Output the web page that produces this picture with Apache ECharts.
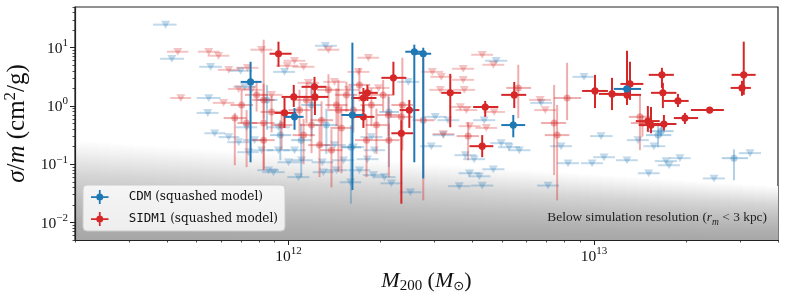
<!DOCTYPE html>
<html><head><meta charset="utf-8">
<script src="https://cdn.jsdelivr.net/npm/echarts@6/dist/echarts.min.js"></script>
<style>html,body{margin:0;padding:0;background:#fff}#c{width:785px;height:297px}</style>
</head><body><div id="c"></div>
<script>
// Mass values are in units of 1e12 Msun
const UNIT = 1e12;
// [M200, sigma/m, M_lo, M_hi, sigma_lo, sigma_hi]
const cdmSolid = [
  [0.751, 2.59, 0.697, 0.816, 0.108, 5.74],
  [1.046, 0.65, 0.97, 1.12, 0.39, 0.92],
  [1.618, 0.70, 1.49, 1.76, 0.036, 12.2],
  [2.58, 8.53, 2.41, 2.80, 0.108, 11.3],
  [2.76, 7.88, 2.62, 2.93, 0.057, 10.0],
  [5.44, 0.47, 4.97, 5.95, 0.29, 0.70],
  [12.8, 1.96, 11.6, 14.25, 1.8, 2.1]
];
const cdmFaded = [
  [16.2, 0.316, 14.8, 17.9, 0.196, 0.47],
  [16.6, 0.37, 15.0, 18.2, 0.30, 0.45],
  [28.7, 0.127, 26.2, 31.9, 0.053, 0.18],
  [2.13, 0.79, 1.98, 2.30, 0.089, 1.43],
  [0.85, 1.27, 0.79, 0.92, 0.39, 2.3],
  [1.6, 0.196, 1.48, 1.73, 0.021, 0.47],
  [0.94, 0.316, 0.87, 1.02, 0.117, 0.57],
  [1.19, 1.04, 1.10, 1.28, 0.3, 2.5],
  [1.33, 0.47, 1.22, 1.45, 0.15, 0.9],
  [1.10, 0.259, 1.02, 1.19, 0.06, 0.5]
];
const sidmSolid = [
  [0.927, 7.88, 0.867, 1.023, 4.70, 12.7],
  [1.04, 1.43, 0.949, 1.145, 0.96, 2.30],
  [1.216, 2.13, 1.103, 1.331, 1.27, 3.16],
  [1.22, 1.43, 1.12, 1.35, 0.70, 1.89],
  [1.758, 1.37, 1.606, 1.94, 0.79, 2.04],
  [1.812, 1.68, 1.70, 1.96, 1.22, 2.30],
  [2.204, 3.04, 2.013, 2.43, 1.55, 5.74],
  [2.485, 0.85, 2.31, 2.68, 0.42, 1.27],
  [2.34, 0.34, 2.17, 2.56, 0.021, 0.57],
  [3.383, 1.68, 3.162, 3.674, 0.43, 3.56],
  [4.403, 0.96, 4.02, 4.86, 0.65, 1.22],
  [4.304, 0.204, 3.91, 4.68, 0.132, 0.316],
  [5.48, 1.55, 4.97, 6.0, 0.92, 2.59],
  [10.07, 1.81, 9.14, 11.1, 0.92, 3.42],
  [11.45, 1.61, 10.38, 12.7, 0.85, 3.04],
  [12.82, 1.55, 11.53, 14.25, 1.04, 8.87],
  [13.11, 2.39, 12.2, 14.5, 1.27, 5.74],
  [16.68, 3.42, 15.1, 18.25, 2.04, 4.52],
  [16.8, 1.68, 15.36, 18.6, 0.92, 2.49],
  [18.82, 1.22, 16.9, 20.4, 0.96, 1.61],
  [19.83, 0.62, 18.25, 21.9, 0.49, 0.76],
  [23.9, 0.85, 20.75, 26.6, 0.78, 0.93],
  [30.9, 3.42, 28.2, 33.8, 1.55, 12.7],
  [30.5, 2.04, 28.0, 32.6, 1.49, 2.70],
  [15.0, 0.55, 13.7, 16.4, 0.36, 1.0],
  [15.36, 0.47, 14.0, 16.8, 0.34, 0.96],
  [16.93, 0.49, 15.4, 18.6, 0.38, 0.70],
  [0.97, 0.76, 0.90, 1.06, 0.42, 1.37],
  [1.758, 0.65, 1.61, 1.91, 0.42, 1.04]
];
const sidmFaded = [
  [0.667, 0.62, 0.613, 0.729, 0.096, 0.76],
  [0.729, 0.51, 0.68, 0.79, 0.089, 0.85],
  [0.829, 0.51, 0.76, 0.90, 0.079, 13.7],
  [0.949, 0.47, 0.88, 1.03, 0.174, 0.85],
  [5.648, 2.04, 5.16, 6.22, 0.62, 5.09],
  [8.16, 1.37, 7.40, 9.07, 0.57, 5.51],
  [7.40, 0.51, 6.71, 8.10, 0.065, 2.30],
  [7.57, 0.316, 6.9, 8.3, 0.024, 1.04],
  [14.13, 0.65, 13.0, 15.3, 0.174, 1.55],
  [14.4, 0.51, 13.2, 15.6, 0.3, 0.7],
  [3.87, 0.304, 3.55, 4.2, 0.117, 0.53],
  [2.122, 0.70, 1.95, 2.31, 0.3, 1.55],
  [2.34, 0.65, 2.15, 2.55, 0.35, 1.1],
  [2.76, 0.57, 2.55, 3.0, 0.024, 6.72],
  [2.358, 1.04, 2.17, 2.56, 0.174, 6.72],
  [1.086, 0.85, 1.0, 1.18, 0.3, 1.9],
  [1.145, 1.27, 1.05, 1.25, 0.5, 2.5],
  [1.282, 0.57, 1.18, 1.40, 0.2, 1.2],
  [1.351, 1.89, 1.24, 1.47, 0.9, 3.5],
  [1.435, 1.04, 1.32, 1.56, 0.45, 2.0],
  [1.49, 0.42, 1.37, 1.62, 0.07, 1.0],
  [1.547, 1.55, 1.42, 1.68, 0.8, 2.6],
  [1.63, 0.85, 1.50, 1.77, 0.35, 1.6],
  [1.706, 2.30, 1.57, 1.85, 1.2, 4.5],
  [1.867, 1.04, 1.72, 2.03, 0.45, 2.0],
  [1.94, 0.47, 1.79, 2.11, 0.15, 0.9],
  [2.04, 1.55, 1.88, 2.22, 0.8, 2.8],
  [2.13, 0.259, 1.96, 2.31, 0.06, 0.5],
  [1.12, 0.316, 1.03, 1.22, 0.1, 0.6],
  [1.263, 0.213, 1.16, 1.37, 0.06, 0.45],
  [1.382, 0.174, 1.27, 1.50, 0.04, 0.4],
  [0.829, 1.27, 0.76, 0.90, 0.6, 2.4],
  [0.88, 0.79, 0.81, 0.96, 0.35, 1.5],
  [0.786, 1.55, 0.72, 0.855, 0.8, 2.7],
  [0.702, 1.04, 0.645, 0.765, 0.5, 1.9],
  [0.829, 0.259, 0.76, 0.90, 0.08, 0.5],
  [1.189, 0.47, 1.09, 1.29, 0.155, 2.0],
  [1.80, 0.259, 1.65, 1.96, 0.06, 0.6],
  [1.456, 0.85, 1.34, 1.58, 0.073, 2.8]
];
// upper limits: [M200, sigma/m, M_lo, M_hi]
const cdmLimits = [
  [0.396, 24.9, 0.36, 0.43], [0.415, 6.46, 0.38, 0.455], [0.556, 4.70, 0.51, 0.605],
  [0.697, 4.01, 0.64, 0.76], [0.718, 2.13, 0.66, 0.78], [0.548, 1.37, 0.50, 0.60],
  [0.544, 0.76, 0.50, 0.59], [0.97, 3.85, 0.89, 1.05], [1.32, 10.8, 1.22, 1.44],
  [0.573, 0.34, 0.53, 0.62], [0.637, 0.292, 0.59, 0.69], [0.687, 0.239, 0.63, 0.75],
  [0.774, 0.259, 0.71, 0.84], [0.816, 0.174, 0.75, 0.89], [0.74, 0.161, 0.68, 0.80],
  [0.893, 0.073, 0.82, 0.97], [0.86, 0.079, 0.79, 0.93], [1.0, 0.108, 0.92, 1.09],
  [1.078, 0.060, 0.99, 1.17], [0.927, 0.174, 0.85, 1.01], [1.046, 0.174, 0.96, 1.14],
  [1.29, 0.108, 1.19, 1.40], [1.435, 0.079, 1.32, 1.56], [1.595, 0.049, 1.47, 1.73],
  [1.896, 0.065, 1.75, 2.06], [2.17, 0.047, 2.0, 2.36], [2.505, 0.033, 2.31, 2.72],
  [1.513, 0.117, 1.39, 1.64], [1.812, 0.122, 1.67, 1.97], [1.91, 0.174, 1.76, 2.07],
  [1.30, 0.073, 1.20, 1.41], [1.706, 0.079, 1.57, 1.85], [2.06, 0.060, 1.90, 2.24],
  [1.414, 0.213, 1.30, 1.54], [1.63, 0.196, 1.50, 1.77], [1.867, 0.292, 1.72, 2.03],
  [3.02, 0.65, 2.78, 3.28], [2.466, 2.59, 2.27, 2.68], [4.78, 5.97, 4.40, 5.20],
  [6.71, 1.13, 6.18, 7.29], [9.27, 3.16, 8.5, 10.1], [10.54, 0.304, 9.7, 11.5],
  [2.932, 0.204, 2.70, 3.18], [3.21, 0.316, 2.96, 3.49], [3.33, 0.57, 3.07, 3.62],
  [4.37, 0.57, 4.02, 4.75], [4.966, 0.230, 4.57, 5.40], [5.27, 0.196, 4.85, 5.73],
  [5.69, 0.174, 5.24, 6.19], [3.79, 0.143, 3.49, 4.12], [4.05, 0.122, 3.73, 4.40],
  [4.68, 0.082, 4.31, 5.09], [3.91, 0.070, 3.60, 4.25], [4.21, 0.062, 3.88, 4.58],
  [3.62, 0.042, 3.33, 3.94], [4.304, 0.043, 3.96, 4.68], [7.80, 0.204, 7.18, 8.47],
  [8.22, 0.104, 7.57, 8.93], [9.85, 0.104, 9.07, 10.7], [10.78, 0.132, 9.93, 11.7],
  [7.07, 0.043, 6.51, 7.68], [12.82, 0.117, 11.8, 13.9], [13.93, 0.259, 12.8, 15.1],
  [15.7, 0.204, 14.5, 17.1], [17.2, 0.113, 15.8, 18.7], [17.6, 0.096, 16.2, 19.1],
  [19.1, 0.127, 17.6, 20.7], [15.1, 0.070, 13.9, 16.4], [24.7, 0.057, 22.7, 26.8],
  [32.4, 0.155, 29.8, 35.2], [1.103, 0.117, 1.02, 1.20], [0.729, 0.43, 0.67, 0.79],
  [0.927, 0.43, 0.85, 1.01]
];
const sidmLimits = [
  [0.434, 8.53, 0.40, 0.47], [0.548, 8.53, 0.505, 0.595], [0.59, 7.28, 0.543, 0.64],
  [0.637, 4.17, 0.587, 0.69], [0.444, 1.37, 0.41, 0.48], [0.613, 1.13, 0.565, 0.665],
  [0.687, 1.96, 0.633, 0.745], [0.734, 4.52, 0.676, 0.797], [0.816, 9.24, 0.75, 0.885],
  [1.351, 9.24, 1.245, 1.466], [1.046, 5.97, 0.963, 1.135], [1.12, 4.70, 1.03, 1.215],
  [1.825, 6.72, 1.68, 1.98], [1.693, 3.85, 1.56, 1.84], [1.414, 2.59, 1.30, 1.535],
  [0.99, 4.90, 0.91, 1.075], [2.955, 3.85, 2.72, 3.21], [3.162, 3.16, 2.91, 3.43],
  [3.14, 1.89, 2.89, 3.41], [4.304, 7.57, 3.96, 4.67], [4.68, 5.09, 4.31, 5.08],
  [3.73, 4.35, 3.43, 4.05], [3.73, 2.81, 3.43, 4.05], [3.76, 1.89, 3.46, 4.08],
  [3.65, 0.96, 3.36, 3.96], [6.66, 1.27, 6.13, 7.23], [6.92, 0.85, 6.37, 7.51],
  [3.82, 0.85, 3.52, 4.15], [3.91, 0.45, 3.60, 4.25], [4.44, 0.42, 4.09, 4.82],
  [4.71, 0.79, 4.34, 5.11], [3.21, 0.33, 2.96, 3.49], [1.162, 2.49, 1.07, 1.26],
  [1.57, 1.89, 1.45, 1.70], [1.97, 2.04, 1.81, 2.14], [0.757, 1.89, 0.70, 0.82],
  [0.88, 1.55, 0.81, 0.955]
];
// resolution boundary: [M_left, sigma_left, M_right, sigma_right]; shaded below
const shadeBoundary = [[2e11, 0.26, 4e13, 0.042]];
// ticks
const xMajorExp = [12, 13];
const yMajorExp = [-2, -1, 0, 1];
const xMinorTicks = [2e11,3e11,4e11,5e11,6e11,7e11,8e11,9e11,2e12,3e12,4e12,5e12,6e12,7e12,8e12,9e12,2e13,3e13,4e13];
const yMinorTicks = [0.005,0.006,0.007,0.008,0.009,0.02,0.03,0.04,0.05,0.06,0.07,0.08,0.09,0.2,0.3,0.4,0.5,0.6,0.7,0.8,0.9,2,3,4,5,6,7,8,9,20,30,40,50];

const SERIF = "'Liberation Serif','DejaVu Serif',serif";
const DSERIF = "'DejaVu Serif','Liberation Serif',serif";
const BLUE = '#1f77b4', RED = '#d62728';
const xMajor = xMajorExp.map(e => Math.pow(10, e));
const yMajor = yMajorExp.map(e => Math.pow(10, e));

function expLabel(v) {
  const e = Math.round(Math.log10(v));
  return '{b|10}{s|' + (e < 0 ? '\u2212' + (-e) : e) + '}';
}
const tickRich = {
  b: { fontFamily: SERIF, fontSize: 15.5, color: '#111', verticalAlign: 'top', padding: [3, 0, 1, 0] },
  s: { fontFamily: SERIF, fontSize: 11, color: '#111', verticalAlign: 'top', padding: [0, 0, 0, 0] }
};
function nameRich(fs) {
  return {
    i: { fontFamily: SERIF, fontStyle: 'italic', fontSize: fs, color: '#111', verticalAlign: 'top' },
    n: { fontFamily: SERIF, fontSize: fs, color: '#111', verticalAlign: 'top' },
    sup: { fontFamily: SERIF, fontSize: fs * 0.68, color: '#111', verticalAlign: 'top', padding: [-3, 0, 0, 0] },
    sub: { fontFamily: SERIF, fontSize: fs * 0.68, color: '#111', verticalAlign: 'top', padding: [fs * 0.41, 0, 0, 0] },
    odot: { fontFamily: "'DejaVu Sans',sans-serif", fontSize: fs * 0.6, color: '#111', verticalAlign: 'top', padding: [fs * 0.46, 0, 0, 0] }
  };
}

function scaleRows(rows) { return rows.map(d => d.length === 6
  ? [d[0]*UNIT, d[1], d[2]*UNIT, d[3]*UNIT, d[4], d[5]]
  : [d[0]*UNIT, d[1], d[2]*UNIT, d[3]*UNIT]); }

function errRender(color, r) {
  return function (params, api) {
    const x = api.value(0), y = api.value(1);
    const c = api.coord([x, y]);
    const l = api.coord([api.value(2), y]);
    const rr = api.coord([api.value(3), y]);
    const b = api.coord([x, api.value(4)]);
    const t = api.coord([x, api.value(5)]);
    return { type: 'group', children: [
      { type: 'line', shape: { x1: l[0], y1: c[1], x2: rr[0], y2: c[1] }, style: { stroke: color, lineWidth: 2 } },
      { type: 'line', shape: { x1: c[0], y1: b[1], x2: c[0], y2: t[1] }, style: { stroke: color, lineWidth: 2 } },
      { type: 'circle', shape: { cx: c[0], cy: c[1], r: r }, style: { fill: color } }
    ] };
  };
}
function limRender(color) {
  return function (params, api) {
    const x = api.value(0), y = api.value(1);
    const c = api.coord([x, y]);
    const l = api.coord([api.value(2), y]);
    const rr = api.coord([api.value(3), y]);
    return { type: 'group', children: [
      { type: 'line', shape: { x1: l[0], y1: c[1], x2: rr[0], y2: c[1] }, style: { stroke: color, lineWidth: 2 } },
      { type: 'polygon', shape: { points: [[c[0]-4.5, c[1]-3.8], [c[0]+4.5, c[1]-3.8], [c[0], c[1]+4]] }, style: { fill: color } }
    ] };
  };
}
const SHADE_STOPS = [
  { offset: 0, color: '#ffffff' }, { offset: 0.12, color: '#f1f1f1' }, { offset: 0.35, color: '#d5d5d5' },
  { offset: 0.6, color: '#bfbfbf' }, { offset: 0.85, color: '#aeaeae' }, { offset: 1, color: '#a7a7a7' }
];
// gradient shade below the boundary line; each column fades from the line to the axis bottom
function shadeRender(params, api) {
  const p0 = api.coord([api.value(0), api.value(1)]);
  const p1 = api.coord([api.value(2), api.value(3)]);
  const cs = params.coordSys;
  const bottom = cs.y + cs.height;
  const N = 60, children = [];
  for (let i = 0; i < N; i++) {
    const fa = i / N, fb = (i + 1) / N;
    const xa = p0[0] + (p1[0] - p0[0]) * fa, xb = p0[0] + (p1[0] - p0[0]) * fb;
    const ya = p0[1] + (p1[1] - p0[1]) * fa, yb = p0[1] + (p1[1] - p0[1]) * fb;
    const ym = (ya + yb) / 2;
    children.push({ type: 'polygon', silent: true,
      shape: { points: [[xa, ya], [xb + 0.8, yb], [xb + 0.8, bottom], [xa, bottom]] },
      style: { fill: { type: 'linear', global: true, x: 0, y: ym, x2: 0, y2: bottom, colorStops: SHADE_STOPS } } });
  }
  return { type: 'group', children };
}

const ICON = 'path://M0,9H20V11H0Z M9,2H11V18H9Z M14,10A4,4,0,1,1,6,10A4,4,0,1,1,14,10Z';
const chart = echarts.init(document.getElementById('c'), null, { renderer: 'canvas' });
chart.setOption({
  animation: false,
  backgroundColor: '#fff',
  grid: { left: 75, right: 7, top: 7, bottom: 57, containLabel: false, outerBoundsMode: 'none',
    show: true, borderColor: '#222', borderWidth: 1.2, backgroundColor: 'transparent' },
  legend: {
    left: 83, top: 185, orient: 'vertical',
    padding: [5, 7, 5, 8], itemGap: 8, itemWidth: 18, itemHeight: 14,
    backgroundColor: 'rgba(255,255,255,0.8)', borderColor: '#cccccc', borderWidth: 1, borderRadius: 4,
    data: [
      { name: 'CDM', icon: ICON, itemStyle: { color: BLUE } },
      { name: 'SIDM1', icon: ICON, itemStyle: { color: RED } }
    ],
    formatter: n => '{m|' + n + '}{t| (squashed model)}',
    textStyle: { rich: {
      m: { fontFamily: "'DejaVu Sans Mono','Liberation Mono',monospace", fontSize: 12.5, color: '#111', padding: [0, 0, 0, 15] },
      t: { fontFamily: DSERIF, fontSize: 12, color: '#111' }
    } }
  },
  xAxis: [
    { type: 'log', logBase: 10, min: 2e11, max: 4e13, position: 'bottom',
      axisLine: { lineStyle: { color: '#222', width: 1.2 } },
      axisTick: { length: 5, lineStyle: { color: '#222', width: 1 }, customValues: xMajor },
      axisLabel: { customValues: xMajor, formatter: expLabel, margin: 6, rich: tickRich },
      splitLine: { show: false },
      name: '{i|M}{sub|200}{n| (}{i|M}{odot|\u2299}{n|)}', nameLocation: 'middle', nameGap: 24,
      nameTextStyle: { rich: nameRich(22) } },
    { type: 'log', logBase: 10, min: 2e11, max: 4e13, position: 'bottom',
      axisLine: { show: false },
      axisTick: { length: 2.5, lineStyle: { color: '#222', width: 0.8 }, customValues: xMinorTicks },
      axisLabel: { show: false }, splitLine: { show: false } }
  ],
  yAxis: [
    { type: 'log', logBase: 10, min: 0.005, max: 50, position: 'left',
      axisLine: { lineStyle: { color: '#222', width: 1.2 } },
      axisTick: { length: 5, lineStyle: { color: '#222', width: 1 }, customValues: yMajor },
      axisLabel: { customValues: yMajor, formatter: expLabel, margin: 7, rich: tickRich },
      splitLine: { show: false },
      name: '{i|\u03c3}{n|/}{i|m}{n| (cm}{sup|2}{n|/g)}', nameLocation: 'middle', nameGap: 43, nameRotate: 90,
      nameTextStyle: { rich: nameRich(25) } },
    { type: 'log', logBase: 10, min: 0.005, max: 50, position: 'left',
      axisLine: { show: false },
      axisTick: { length: 2.5, lineStyle: { color: '#222', width: 0.8 }, customValues: yMinorTicks },
      axisLabel: { show: false }, splitLine: { show: false } }
  ],
  graphic: [{
    type: 'text', right: 18, top: 211, z: 10,
    style: {
      text: '{n|Below simulation resolution (}{i|r}{sub|m}{n| < 3 kpc)}',
      rich: {
        n: { fontFamily: SERIF, fontSize: 13.4, fill: '#222', verticalAlign: 'top' },
        i: { fontFamily: SERIF, fontStyle: 'italic', fontSize: 13.4, fill: '#222', verticalAlign: 'top' },
        sub: { fontFamily: SERIF, fontStyle: 'italic', fontSize: 9.5, fill: '#222', verticalAlign: 'top', padding: [6, 0, 0, 0] }
      }
    }
  }],
  series: [
    { type: 'custom', name: 'shade', data: shadeBoundary, renderItem: shadeRender, encode: { x: [0, 2], y: [1, 3] }, z: 0, silent: true, clip: true },
    { type: 'custom', name: 'cdmLim', data: scaleRows(cdmLimits), renderItem: limRender('rgba(31,119,180,0.28)'), encode: { x: 0, y: 1 }, z: 2, silent: true },
    { type: 'custom', name: 'sidmLim', data: scaleRows(sidmLimits), renderItem: limRender('rgba(214,39,40,0.28)'), encode: { x: 0, y: 1 }, z: 2, silent: true },
    { type: 'custom', name: 'cdmFaded', data: scaleRows(cdmFaded), renderItem: errRender('rgba(31,119,180,0.35)', 3.5), encode: { x: 0, y: 1 }, z: 3, silent: true },
    { type: 'custom', name: 'sidmFaded', data: scaleRows(sidmFaded), renderItem: errRender('rgba(214,39,40,0.38)', 3.5), encode: { x: 0, y: 1 }, z: 3, silent: true },
    { type: 'custom', name: 'SIDM1', data: scaleRows(sidmSolid), renderItem: errRender(RED, 3.6), itemStyle: { color: RED }, encode: { x: 0, y: 1 }, z: 4 },
    { type: 'custom', name: 'CDM', data: scaleRows(cdmSolid), renderItem: errRender(BLUE, 3.6), itemStyle: { color: BLUE }, encode: { x: 0, y: 1 }, z: 5 }
  ]
});
</script></body></html>
